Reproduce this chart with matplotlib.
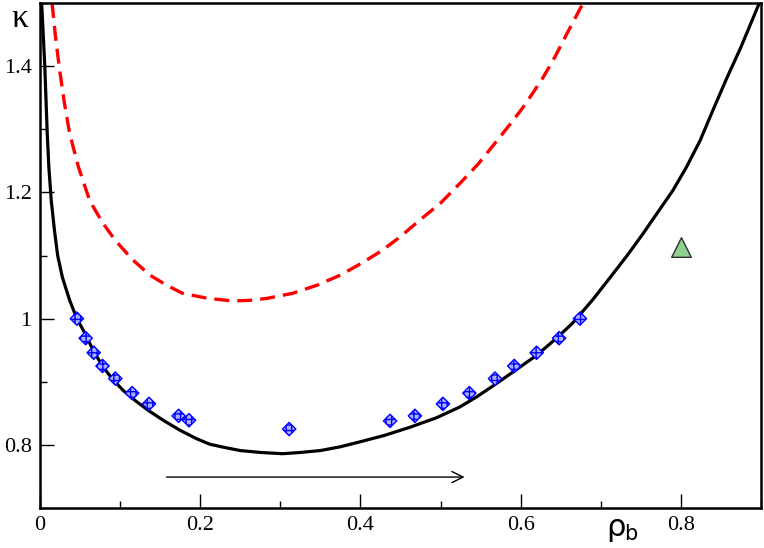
import matplotlib
matplotlib.use('Agg')
import matplotlib.pyplot as plt
from matplotlib.ticker import MultipleLocator, FormatStrFormatter

# solid black curve
black_x = [0.002, 0.004, 0.006, 0.009, 0.011, 0.014, 0.018, 0.022, 0.028, 0.037, 0.046,
           0.056, 0.067, 0.079, 0.090, 0.104, 0.120, 0.137, 0.155, 0.175, 0.195, 0.212,
           0.230, 0.250, 0.275, 0.303, 0.325, 0.350, 0.375, 0.400, 0.430, 0.462, 0.495,
           0.524, 0.545, 0.565, 0.590, 0.620, 0.643, 0.665, 0.690, 0.711, 0.733, 0.753,
           0.772, 0.790, 0.807, 0.824, 0.840, 0.857, 0.875, 0.898]
black_y = [1.500, 1.450, 1.398, 1.293, 1.240, 1.187, 1.140, 1.100, 1.065, 1.029, 1.000,
           0.977, 0.948, 0.923, 0.905, 0.886, 0.869, 0.853, 0.838, 0.823, 0.810, 0.801,
           0.796, 0.791, 0.788, 0.786, 0.788, 0.791, 0.797, 0.805, 0.815, 0.828, 0.843,
           0.860, 0.876, 0.893, 0.915, 0.942, 0.967, 0.993, 1.030, 1.064, 1.100, 1.135,
           1.170, 1.203, 1.240, 1.282, 1.330, 1.380, 1.430, 1.500]

# dashed red curve
red_x = [0.015, 0.019, 0.024, 0.030, 0.037, 0.048, 0.062, 0.078, 0.094, 0.115, 0.137,
         0.158, 0.178, 0.210, 0.241, 0.262, 0.283, 0.315, 0.346, 0.375, 0.403, 0.427,
         0.449, 0.474, 0.500, 0.524, 0.547, 0.568, 0.585, 0.602, 0.615, 0.628, 0.643,
         0.658, 0.668, 0.678]
red_y = [1.500, 1.450, 1.398, 1.345, 1.293, 1.240, 1.187, 1.152, 1.124, 1.094, 1.069,
         1.053, 1.040, 1.032, 1.028, 1.029, 1.032, 1.040, 1.053, 1.069, 1.089, 1.108,
         1.129, 1.156, 1.183, 1.214, 1.245, 1.278, 1.305, 1.333, 1.357, 1.382, 1.415,
         1.452, 1.476, 1.500]

# simulation points (diamonds)
sim_x = [0.046, 0.057, 0.067, 0.078, 0.094, 0.115, 0.136, 0.173, 0.186, 0.311,
         0.437, 0.468, 0.503, 0.536, 0.568, 0.592, 0.620, 0.648, 0.674]
sim_y = [1.0, 0.969, 0.946, 0.925, 0.905, 0.882, 0.865, 0.846, 0.839, 0.825,
         0.838, 0.846, 0.865, 0.882, 0.905, 0.925, 0.946, 0.969, 1.0]

# single triangle point
tri_x = [0.80]
tri_y = [1.113]

# arrow along rho_b
arrow_start = (0.158, 0.749)
arrow_end = (0.530, 0.749)

serif = ['Liberation Serif', 'DejaVu Serif']
plt.rcParams['font.family'] = serif

fig = plt.figure(figsize=(7.64, 5.48), dpi=100)
ax = fig.add_axes([0.0524, 0.073, 0.9436, 0.9215])

ax.plot(black_x, black_y, color='black', lw=2.3, solid_joinstyle='round')
ax.plot(red_x, red_y, color='red', lw=2.4, dashes=(4.5, 2.4))

ax.scatter(sim_x, sim_y, marker='D', s=46, facecolor='#aab0ff', edgecolor='blue',
           linewidth=1.0, hatch='+++', zorder=3)
ax.scatter(tri_x, tri_y, marker='^', s=200, facecolor='#8fd08f', edgecolor='#303030',
           linewidth=1.0, zorder=3)

ax.annotate('', xy=arrow_end, xytext=arrow_start,
            arrowprops=dict(arrowstyle='->', color='black', lw=1.0,
                            mutation_scale=20, shrinkA=0, shrinkB=0))

ax.set_xlim(0, 0.9)
ax.set_ylim(0.7, 1.5)
ax.xaxis.set_major_locator(MultipleLocator(0.2))
ax.xaxis.set_minor_locator(MultipleLocator(0.1))
ax.yaxis.set_major_locator(MultipleLocator(0.2))
ax.yaxis.set_minor_locator(MultipleLocator(0.1))
ax.xaxis.set_major_formatter(FormatStrFormatter('%g'))
ax.yaxis.set_major_formatter(FormatStrFormatter('%g'))

ax.tick_params(which='major', direction='in', length=10, width=1.0, labelsize=16, pad=6)
ax.tick_params(which='minor', direction='in', length=5, width=1.0)
for sp in ax.spines.values():
    sp.set_linewidth(1.8)

fig.text(20 / 764, 1 - 19 / 548, '\u03ba', fontsize=24, family=serif,
         ha='center', va='center')
fig.text(616 / 764, 1 - 527 / 548, '\u03c1', fontsize=22, family='DejaVu Sans',
         ha='center', va='center')
fig.text(631 / 764, 1 - 534 / 548, 'b', fontsize=15, family='DejaVu Sans',
         ha='center', va='center')

fig.savefig('out.png', dpi=100)
